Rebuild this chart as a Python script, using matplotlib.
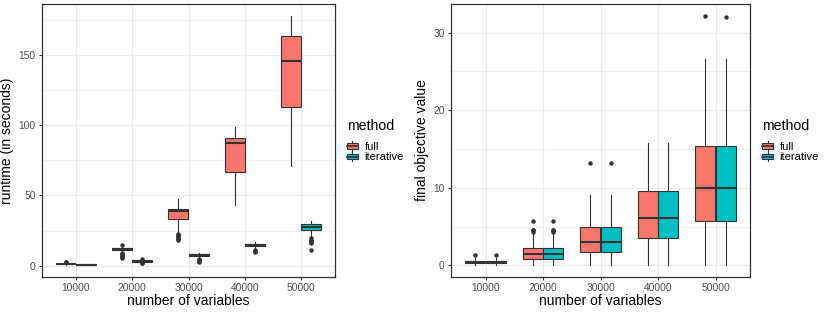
import numpy as np
import matplotlib
matplotlib.use('Agg')
import matplotlib.pyplot as plt
from matplotlib.patches import Rectangle, Patch
from matplotlib.lines import Line2D
from matplotlib.legend_handler import HandlerBase

plt.rcParams['font.family'] = ['Liberation Sans', 'DejaVu Sans']

categories = ['10000', '20000', '30000', '40000', '50000']
methods = ['full', 'iterative']
colors = ['#F8766D', '#00BFC4']

# runtime panel: box stats per method (one value per category)
rt_full_med = [1.3, 12.1, 38.6, 87.0, 145.3]
rt_full_q1 = [1.0, 11.0, 33.6, 66.6, 112.6]
rt_full_q3 = [1.6, 12.8, 40.5, 90.8, 163.5]
rt_full_lo = [0.6, 10.2, 24.0, 43.1, 71.3]
rt_full_hi = [2.0, 14.0, 47.4, 98.8, 177.7]
rt_full_out = [[2.4, 2.7], [5.8, 6.5, 7.2, 7.8, 8.4, 9.0, 15.0], [18.5, 19.2, 19.8, 20.5, 21.2, 22.0, 22.8], [], []]

rt_iter_med = [0.8, 3.4, 7.6, 14.9, 27.3]
rt_iter_q1 = [0.6, 3.0, 7.1, 14.1, 25.1]
rt_iter_q3 = [1.0, 3.8, 8.1, 15.8, 29.4]
rt_iter_lo = [0.3, 2.5, 6.0, 12.5, 21.5]
rt_iter_hi = [1.3, 4.6, 9.0, 17.0, 32.0]
rt_iter_out = [[], [1.8, 2.2, 4.8], [3.0, 3.6, 4.2, 4.8], [9.5, 10.2, 11.0], [16.2, 17.0, 17.8, 18.6, 19.4, 10.9]]

# final objective panel
ob_full_med = [0.43, 1.5, 2.96, 6.1, 9.96]
ob_full_q1 = [0.26, 0.86, 1.72, 3.48, 5.67]
ob_full_q3 = [0.6, 2.23, 4.9, 9.57, 15.4]
ob_full_lo = [0.0, 0.0, 0.0, 0.0, 0.0]
ob_full_hi = [0.9, 4.2, 9.1, 15.75, 26.65]
ob_full_out = [[1.33], [4.35, 4.5, 4.6, 5.7], [13.26], [], [32.1]]

ob_iter_med = [0.43, 1.5, 2.96, 6.1, 9.94]
ob_iter_q1 = [0.26, 0.86, 1.72, 3.48, 5.67]
ob_iter_q3 = [0.6, 2.23, 4.9, 9.57, 15.35]
ob_iter_lo = [0.0, 0.0, 0.0, 0.0, 0.0]
ob_iter_hi = [0.9, 4.2, 9.1, 15.75, 26.55]
ob_iter_out = [[1.33], [4.35, 4.5, 4.6, 5.7], [13.26], [], [31.97]]

dark = '#333333'


def make_stats(med, q1, q3, lo, hi, out):
    '''builds the dicts that bxp wants'''
    return [dict(med=m, q1=a, q3=b, whislo=l, whishi=h, fliers=np.array(o))
            for m, a, b, l, h, o in zip(med, q1, q3, lo, hi, out)]


class BoxKey(HandlerBase):
    '''legend key that looks like a little boxplot'''
    def create_artists(self, legend, orig_handle, xdescent, ydescent, width, height, fontsize, trans):
        x0, y0 = -xdescent, -ydescent
        fc = orig_handle.get_facecolor()
        rect = Rectangle((x0, y0 + height * 0.2), width, height * 0.6, facecolor=fc,
                         edgecolor=dark, lw=0.8, transform=trans)
        med = Line2D([x0, x0 + width], [y0 + height / 2] * 2, color=dark, lw=1.2, transform=trans)
        wl = Line2D([x0 + width / 2] * 2, [y0, y0 + height * 0.2], color=dark, lw=0.8, transform=trans)
        wh = Line2D([x0 + width / 2] * 2, [y0 + height * 0.8, y0 + height], color=dark, lw=0.8, transform=trans)
        return [rect, med, wl, wh]


def draw_panel(ax, stats_by_method, ylabel, ylim, yticks, yminor):
    pos = np.arange(1, len(categories) + 1)
    offsets = [-0.18, 0.18]
    for stats, off, col in zip(stats_by_method, offsets, colors):
        ax.bxp(stats, positions=pos + off, widths=0.35, patch_artist=True, showcaps=False,
               boxprops=dict(facecolor=col, edgecolor=dark, lw=0.8),
               medianprops=dict(color=dark, lw=1.5),
               whiskerprops=dict(color=dark, lw=0.8),
               flierprops=dict(marker='o', markerfacecolor=dark, markeredgecolor='none', markersize=3.2),
               manage_ticks=False, zorder=3)
    ax.set_xlim(0.4, len(categories) + 0.6)
    ax.set_ylim(*ylim)
    ax.set_xticks(pos)
    ax.set_xticklabels(categories)
    ax.set_yticks(yticks)
    ax.set_yticks(yminor, minor=True)
    ax.grid(True, which='major', color='#EBEBEB', lw=0.8, zorder=0)
    ax.grid(True, which='minor', axis='y', color='#EBEBEB', lw=0.4, zorder=0)
    ax.set_axisbelow(True)
    for s in ax.spines.values():
        s.set_color('#333333')
        s.set_linewidth(0.9)
    ax.tick_params(which='major', length=2.5, color='#333333', labelsize=7.4, labelcolor='#4D4D4D', pad=2)
    ax.tick_params(which='minor', length=0)
    ax.set_xlabel('number of variables', fontsize=10, labelpad=0.5)
    ax.set_ylabel(ylabel, fontsize=10, labelpad=3)
    handles = [Patch(facecolor=c, label=m) for c, m in zip(colors, methods)]
    leg = ax.legend(handles=handles, title='method', loc='center left', bbox_to_anchor=(1.04, 0.5),
                    frameon=False, fontsize=8, title_fontsize=10.2, handler_map={Patch: BoxKey()},
                    handlelength=1.0, handleheight=0.95, handletextpad=0.6, labelspacing=0.02,
                    borderaxespad=0, borderpad=0)
    leg._legend_box.align = 'left'
    leg._legend_box.sep = 6


fig = plt.figure(figsize=(8.3, 3.12), dpi=100)
W, H = 830, 312
ax1 = fig.add_axes([42 / W, 35 / H, 293 / W, 273 / H])
ax2 = fig.add_axes([451 / W, 35 / H, 299 / W, 273 / H])

rt_stats = [make_stats(rt_full_med, rt_full_q1, rt_full_q3, rt_full_lo, rt_full_hi, rt_full_out),
            make_stats(rt_iter_med, rt_iter_q1, rt_iter_q3, rt_iter_lo, rt_iter_hi, rt_iter_out)]
ob_stats = [make_stats(ob_full_med, ob_full_q1, ob_full_q3, ob_full_lo, ob_full_hi, ob_full_out),
            make_stats(ob_iter_med, ob_iter_q1, ob_iter_q3, ob_iter_lo, ob_iter_hi, ob_iter_out)]

draw_panel(ax1, rt_stats, 'runtime (in seconds)', (-8.0, 186.2), [0, 50, 100, 150], [25, 75, 125, 175])
draw_panel(ax2, ob_stats, 'final objective value', (-1.5, 33.7), [0, 10, 20, 30], [5, 15, 25])

fig.savefig('out.png', dpi=100)
